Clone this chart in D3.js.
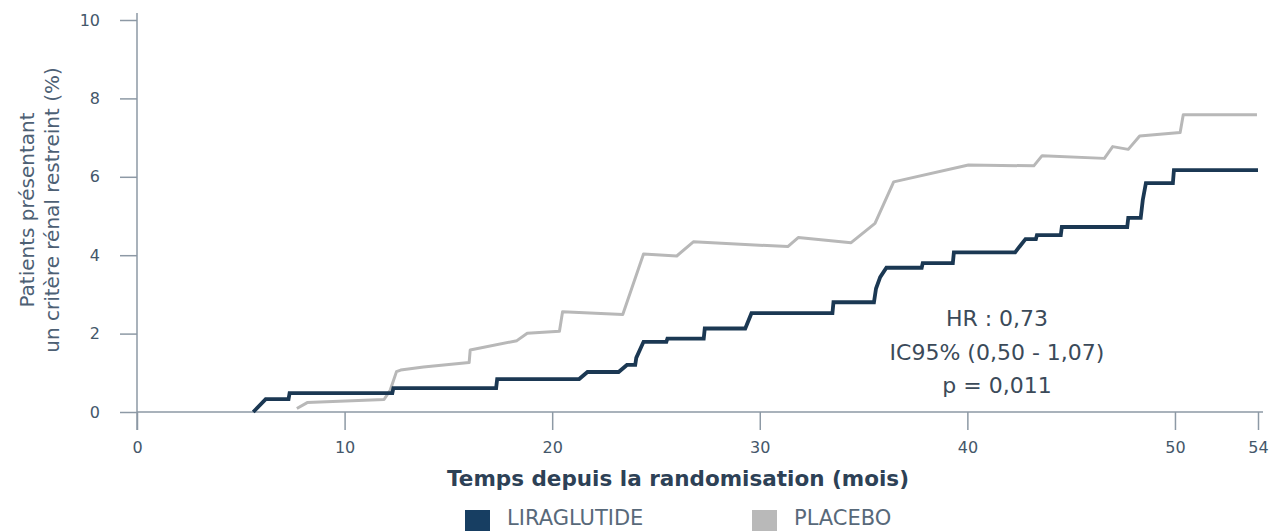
<!DOCTYPE html>
<html>
<head>
<meta charset="utf-8">
<script src="https://cdn.jsdelivr.net/npm/d3@7"></script>
<style>
  html, body { margin: 0; padding: 0; background: #ffffff; }
  svg { display: block; }
  text { font-family: "DejaVu Sans", Verdana, sans-serif; }
</style>
</head>
<body>
<svg id="chart" width="1273" height="532"></svg>
<script>
// Cumulative incidence (%) by months since randomisation
const liraMonths = [5.6, 6.2, 7.3, 7.35, 12.3, 12.35, 17.3, 17.35, 21.3, 21.7, 23.2, 23.6, 24.0, 24.05, 24.4,
  25.5, 25.55, 27.3, 27.35, 29.3, 29.6, 33.5, 33.55, 35.5, 35.6, 35.8, 36.1, 37.8, 37.85, 39.3, 39.35,
  42.3, 42.5, 42.8, 43.3, 43.35, 44.5, 44.55, 47.7, 47.75, 48.35, 48.45, 48.6, 49.9, 49.95, 54];
const liraPct = [0, 0.33, 0.33, 0.48, 0.48, 0.61, 0.61, 0.84, 0.84, 1.02, 1.02, 1.2, 1.2, 1.38, 1.79,
  1.79, 1.87, 1.87, 2.13, 2.13, 2.52, 2.52, 2.8, 2.8, 3.15, 3.44, 3.68, 3.68, 3.8, 3.8, 4.07,
  4.07, 4.21, 4.41, 4.41, 4.51, 4.51, 4.72, 4.72, 4.95, 4.95, 5.41, 5.84, 5.84, 6.17, 6.17];

const placeboMonths = [7.7, 8.2, 11.9, 12.2, 12.5, 12.7, 13.8, 16.0, 16.05, 18.3, 18.8, 20.35, 20.5, 23.4,
  24.4, 26.0, 26.8, 31.35, 31.85, 34.4, 35.55, 36.45, 40.05, 43.2, 43.6, 46.6, 47.0, 47.75, 48.3,
  50.25, 50.4, 53.95];
const placeboPct = [0.09, 0.24, 0.32, 0.56, 1.03, 1.07, 1.15, 1.26, 1.58, 1.82, 2.01, 2.06, 2.56, 2.49,
  4.03, 3.98, 4.34, 4.22, 4.45, 4.32, 4.81, 5.87, 6.30, 6.28, 6.54, 6.47, 6.77, 6.70, 7.04,
  7.13, 7.58, 7.58];

const xTicks = [0, 10, 20, 30, 40, 50, 54];
const yTicks = [0, 2, 4, 6, 8, 10];
const seriesNames = ["LIRAGLUTIDE", "PLACEBO"];
const statLines = ["HR : 0,73", "IC95% (0,50 - 1,07)", "p = 0,011"];

const colors = { lira: "#1b3853", placebo: "#b8b8b8", axis: "#8d99a5", tick: "#44576a" };

const svg = d3.select("#chart");
const x = d3.scaleLinear().domain([0, 54]).range([137, 1258]);
const y = d3.scaleLinear().domain([0, 10]).range([412, 20]);

// axes
const xAxis = svg.append("g")
  .attr("transform", `translate(0,${y(0)})`)
  .call(d3.axisBottom(x).tickValues(xTicks).tickFormat(d3.format("d"))
    .tickSizeInner(18).tickSizeOuter(0).tickPadding(12));
const yAxis = svg.append("g")
  .attr("transform", `translate(${x(0)},0)`)
  .call(d3.axisLeft(y).tickValues(yTicks).tickFormat(d3.format("d"))
    .tickSizeInner(17).tickSizeOuter(0).tickPadding(20));

[xAxis, yAxis].forEach(g => {
  g.select(".domain").remove();
  g.selectAll(".tick line").attr("stroke", colors.axis).attr("stroke-width", 1.5);
  g.selectAll(".tick text").attr("fill", colors.tick).attr("font-size", 16)
    .attr("font-family", "'DejaVu Sans', Verdana, sans-serif");
});

svg.append("line")
  .attr("x1", x(0)).attr("x2", x(54) + 5)
  .attr("y1", y(0)).attr("y2", y(0))
  .attr("stroke", colors.axis).attr("stroke-width", 1.5);
svg.append("line")
  .attr("x1", x(0)).attr("x2", x(0))
  .attr("y1", y(10) - 7).attr("y2", y(0) + 18)
  .attr("stroke", colors.axis).attr("stroke-width", 1.5);

// curves
const line = d3.line().x(d => x(d[0])).y(d => y(d[1])).curve(d3.curveLinear);
const placebo = placeboMonths.map((m, i) => [m, placeboPct[i]]);
const lira = liraMonths.map((m, i) => [m, liraPct[i]]);

svg.append("path").datum(placebo)
  .attr("d", line).attr("fill", "none")
  .attr("stroke", colors.placebo).attr("stroke-width", 3)
  .attr("stroke-linejoin", "round");
svg.append("path").datum(lira)
  .attr("d", line).attr("fill", "none")
  .attr("stroke", colors.lira).attr("stroke-width", 3.8)
  .attr("stroke-linejoin", "miter");

// statistics annotation
svg.append("g").selectAll("text").data(statLines).join("text")
  .attr("x", 997).attr("y", (d, i) => 326 + i * 33.5)
  .attr("text-anchor", "middle").attr("font-size", 22).attr("fill", "#3b4a59")
  .text(d => d);

// axis titles
svg.append("text")
  .attr("x", 678).attr("y", 486)
  .attr("text-anchor", "middle").attr("font-size", 21.5).attr("font-weight", "bold")
  .attr("fill", "#2d4156")
  .text("Temps depuis la randomisation (mois)");

const yTitle = svg.append("text")
  .attr("transform", "translate(0,210) rotate(-90)")
  .attr("text-anchor", "middle").attr("font-size", 20).attr("fill", "#4d6074");
yTitle.append("tspan").attr("x", 0).attr("y", 34).text("Patients présentant");
yTitle.append("tspan").attr("x", 0).attr("y", 59).text("un critère rénal restreint (%)");

// legend
const legend = svg.append("g");
const legendX = [465, 752];
const legendColors = ["#173e62", "#b9b9b9"];
seriesNames.forEach((name, i) => {
  legend.append("rect").attr("x", legendX[i]).attr("y", 510)
    .attr("width", 25).attr("height", 21).attr("fill", legendColors[i]);
  legend.append("text").attr("x", legendX[i] + 42).attr("y", 525)
    .attr("font-size", 21).attr("fill", "#58697a").text(name);
});
</script>
</body>
</html>
